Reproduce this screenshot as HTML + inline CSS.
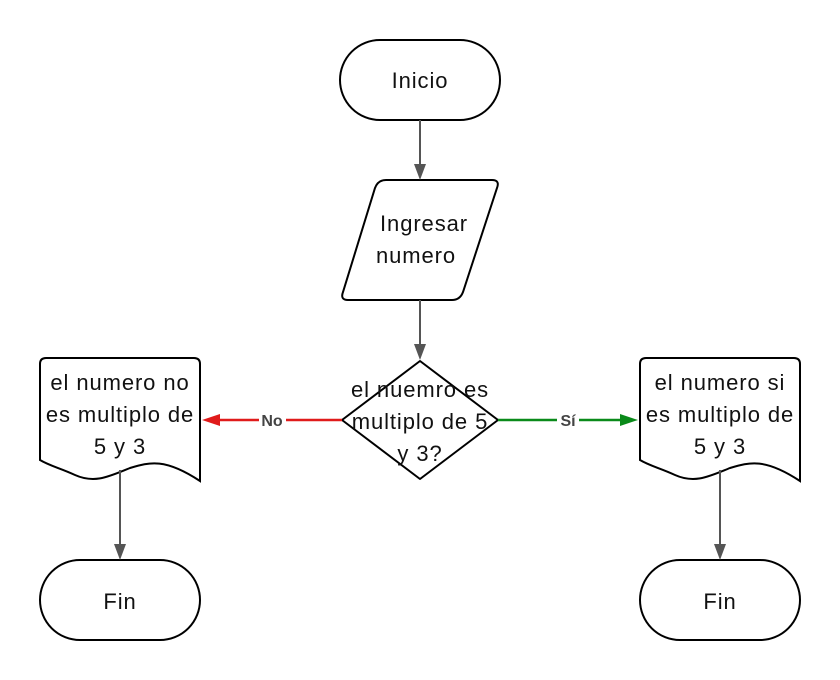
<!DOCTYPE html>
<html><head><meta charset="utf-8"><style>
html,body{margin:0;padding:0;background:#fff;}
svg{display:block;}
text{font-family:"Liberation Sans",sans-serif;font-size:22px;letter-spacing:0.9px;fill:#111;text-anchor:middle;}
.lbl{font-size:16px;letter-spacing:0;font-weight:bold;fill:#444;}
</style></head><body>
<svg width="840" height="680" viewBox="0 0 840 680" xmlns="http://www.w3.org/2000/svg">
<g fill="#fff" stroke="#000" stroke-width="2">
<rect x="340" y="40" width="160" height="80" rx="40"/>
<path d="M386,180 H492 Q500,180 497,188 L463,292 Q460,300 452,300 H348 Q340,300 343,292 L375,188 Q378,180 386,180 Z"/>
<path d="M420,361 L498,420 L420,479 L342,420 Z" stroke-linejoin="round"/>
<path d="M46,358 H194 Q200,358 200,364 V481 C165,458 150,462 130,468 C110,476 95,484 75,475 C60,468 50,466 40,460 V364 Q40,358 46,358 Z"/>
<path d="M646,358 H794 Q800,358 800,364 V481 C765,458 750,462 730,468 C710,476 695,484 675,475 C660,468 650,466 640,460 V364 Q640,358 646,358 Z"/>
<rect x="40" y="560" width="160" height="80" rx="40"/>
<rect x="640" y="560" width="160" height="80" rx="40"/>
</g>
<g stroke="#555" stroke-width="2" fill="none">
<line x1="420" y1="120" x2="420" y2="166"/>
<line x1="420" y1="300" x2="420" y2="346"/>
<line x1="120" y1="470" x2="120" y2="546"/>
<line x1="720" y1="470" x2="720" y2="546"/>
</g>
<g fill="#555">
<path d="M414,164 L426,164 L420,180 Z"/>
<path d="M414,344 L426,344 L420,360 Z"/>
<path d="M114,544 L126,544 L120,560 Z"/>
<path d="M714,544 L726,544 L720,560 Z"/>
</g>
<line x1="342" y1="420" x2="216" y2="420" stroke="#e01b1b" stroke-width="2.5"/>
<path d="M202,420 L220,414 L220,426 Z" fill="#e01b1b"/>
<line x1="498" y1="420" x2="624" y2="420" stroke="#0a8a1a" stroke-width="2.5"/>
<path d="M638,420 L620,414 L620,426 Z" fill="#0a8a1a"/>
<rect x="259" y="411" width="27" height="18" fill="#fff"/>
<text class="lbl" x="272" y="426">No</text>
<rect x="557" y="411" width="22" height="18" fill="#fff"/>
<text class="lbl" x="568" y="426">Sí</text>
<text x="420" y="88">Inicio</text>
<text x="424" y="231">Ingresar</text>
<text x="416" y="263">numero</text>
<text x="420" y="397">el nuemro es</text>
<text x="420" y="429">multiplo de 5</text>
<text x="420" y="461">y 3?</text>
<text x="120" y="390">el numero no</text>
<text x="120" y="422">es multiplo de</text>
<text x="120" y="454">5 y 3</text>
<text x="720" y="390">el numero si</text>
<text x="720" y="422">es multiplo de</text>
<text x="720" y="454">5 y 3</text>
<text x="120" y="609">Fin</text>
<text x="720" y="609">Fin</text>
</svg>
</body></html>
